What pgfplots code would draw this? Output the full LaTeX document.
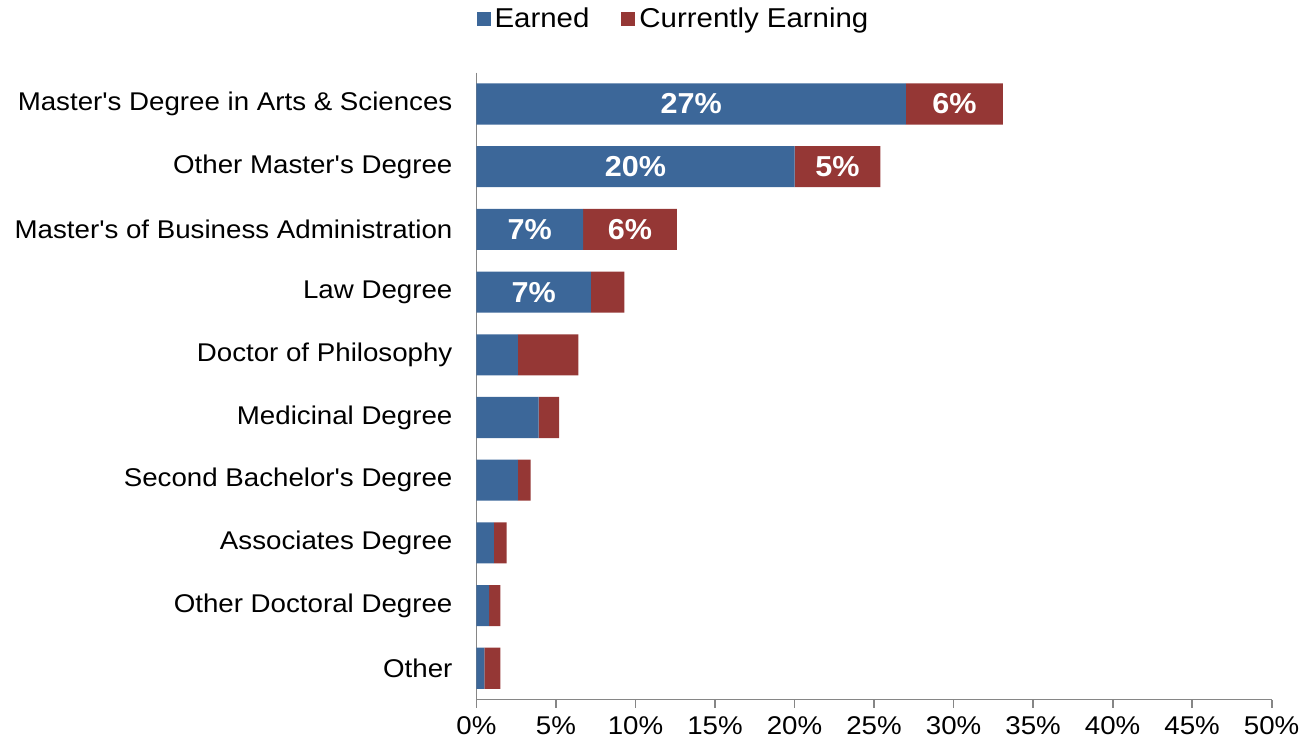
\documentclass[border=0pt]{standalone}
\usepackage{graphicx}
\usepackage{pgfplots}
\pgfplotsset{compat=1.18}
\usepackage{fontspec}
\setmainfont{Liberation Sans}
\definecolor{eblue}{RGB}{60,103,153}
\definecolor{cred}{RGB}{149,55,53}
\definecolor{axgray}{RGB}{134,134,134}
\newcommand{\sx}[1]{\scalebox{1.08}[1]{#1}}
\newcommand{\q}{\textquotesingle}
\begin{document}
\begin{tikzpicture}
\pgfplotsset{
  common/.style={
    scale only axis, width=397pt, height=313pt,
    xmin=0, xmax=50, ymin=-0.5, ymax=9.5, y dir=reverse,
    /pgf/number format/assume math mode=true,
  }
}
\begin{axis}[common,
  xbar stacked, bar width=20.5pt,
  axis x line=bottom, axis y line=left,
  axis line style={-, axgray, line width=0.9pt},
  tick style={axgray, line width=0.9pt},
  tick align=outside,
  xtick={0,5,...,50},
  xticklabel={\sx{\pgfmathprintnumber{\tick}\%}},
  ytick={0,...,9},
  yticklabels={\sx{Master\q s Degree in Arts \& Sciences}, \sx{Other Master\q s Degree}, \sx{Master\q s of Business Administration}, \sx{Law Degree}, \sx{Doctor of Philosophy}, \sx{Medicinal Degree}, \sx{Second Bachelor\q s Degree}, \sx{Associates Degree}, \sx{Other Doctoral Degree}, \sx{Other}},
  y tick style={draw=none},
  extra y ticks={-0.5,0.5,...,9.5},
  extra y tick labels={},
  extra y tick style={major tick length=4.5pt, tick style={axgray, line width=0.9pt}},
  major tick length=4pt,
  tick label style={font=\fontsize{12.8pt}{14pt}\selectfont, black},
  yticklabel style={xshift=-4.5pt},
  xticklabel style={yshift=-1pt},
  legend style={draw=none, at={(0.249,1.085)}, anchor=center, legend columns=2,
    font=\fontsize{13.6pt}{15pt}\selectfont, column sep=0pt,
    /tikz/every even column/.append style={column sep=14pt}},
  legend image code/.code={\fill[#1] (0pt,-3.5pt) rectangle (7pt,3.5pt);},
  legend cell align=left,
]
\addplot[fill=eblue, draw=none] coordinates {
 (27.0,0) (20.0,1) (6.7,2) (7.2,3) (2.6,4) (3.9,5) (2.6,6) (1.1,7) (0.8,8) (0.5,9)};
\addplot[fill=cred, draw=none] coordinates {
 (6.1,0) (5.4,1) (5.9,2) (2.1,3) (3.8,4) (1.3,5) (0.8,6) (0.8,7) (0.7,8) (1.0,9)};
\legend{\sx{Earned}, \sx{Currently Earning}}
\end{axis}
\begin{axis}[common, hide axis]
\addplot[only marks, mark=none, nodes near coords={\scalebox{1.06}[1]{\pgfmathprintnumber[fixed,precision=0]{\pgfplotspointmeta}\%}},
  nodes near coords align=center,
  every node near coord/.append style={font=\bfseries\fontsize{14.4pt}{16pt}\selectfont, text=white, anchor=center},
  point meta=explicit] table[x=x, y=y, meta=m] {
x y m
13.5 0 27
30.05 0 6
10.0 1 20
22.7 1 5
3.35 2 7
9.65 2 6
3.6 3 7
};
\end{axis}
\path ([xshift=-4pt]current bounding box.south west);
\end{tikzpicture}
\end{document}
